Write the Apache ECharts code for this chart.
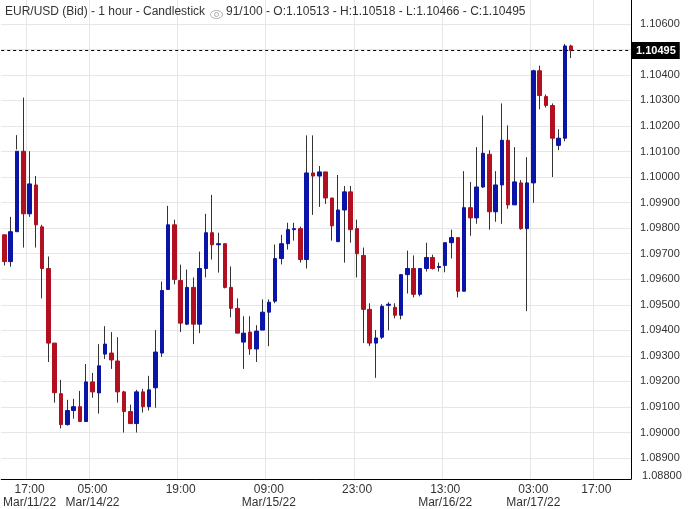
<!DOCTYPE html>
<html>
<head>
<meta charset="utf-8">
<script src="https://cdn.jsdelivr.net/npm/echarts@6/dist/echarts.min.js"></script>
<style>html,body{margin:0;padding:0;background:#fff}#chart{width:694px;height:509px}</style>
</head>
<body>
<div id="chart"></div>
<script>
// 每根K线: [open, close, low, high]
var candles = [
[1.09774,1.09669,1.09654,1.09774],[1.09669,1.09786,1.09649,1.09844],[1.09786,1.10101,1.10108,1.10164],
[1.10101,1.09856,1.09724,1.10311],[1.09856,1.09973,1.09844,1.10101],[1.09969,1.09813,1.09724,1.10004],
[1.09805,1.09642,1.09525,1.09813],[1.09642,1.09350,1.09276,1.09689],[1.09350,1.09156,1.09117,1.09350],
[1.09152,1.09031,1.09016,1.09206],[1.09031,1.09086,1.09027,1.09128],[1.09086,1.09101,1.09054,1.09132],
[1.09101,1.09043,1.09043,1.09163],[1.09043,1.09198,1.09043,1.09268],[1.09198,1.09159,1.09136,1.09233],
[1.09155,1.09261,1.09074,1.09346],[1.09307,1.09346,1.09288,1.09416],[1.09311,1.09284,1.09249,1.09393],
[1.09280,1.09159,1.09117,1.09373],[1.09159,1.09082,1.09000,1.09163],[1.09082,1.09035,1.09035,1.09109],
[1.09035,1.09159,1.09000,1.09167],[1.09159,1.09101,1.09078,1.09171],[1.09101,1.09167,1.09086,1.09222],
[1.09175,1.09315,1.09097,1.09401],[1.09311,1.09556,1.09296,1.09591],[1.09560,1.09813,1.09759,1.09887],
[1.09813,1.09599,1.09580,1.09833],[1.09595,1.09428,1.09393,1.09657],[1.09424,1.09568,1.09420,1.09638],
[1.09568,1.09424,1.09346,1.09607],[1.09424,1.09642,1.09389,1.09708],[1.09642,1.09782,1.09607,1.09856],
[1.09782,1.09735,1.09677,1.09930],[1.09735,1.09739,1.09626,1.09782],[1.09739,1.09568,1.09564,1.09739],
[1.09568,1.09486,1.09451,1.09650],[1.09486,1.09389,1.09389,1.09525],[1.09354,1.09389,1.09249,1.09455],
[1.09393,1.09327,1.09304,1.09455],[1.09327,1.09397,1.09276,1.09420],[1.09401,1.09471,1.09401,1.09521],
[1.09471,1.09510,1.09338,1.09521],[1.09514,1.09681,1.09506,1.09736],[1.09681,1.09739,1.09658,1.09774],
[1.09739,1.09794,1.09716,1.09821],[1.09794,1.09798,1.09751,1.09821],[1.09798,1.09677,1.09665,1.09806],
[1.09677,1.10016,1.09642,1.10163],[1.10016,1.10004,1.09852,1.10163],[1.10004,1.10020,1.09883,1.10043],
[1.10020,1.09918,1.09895,1.10020],[1.09918,1.09809,1.09751,1.09918],[1.09747,1.09871,1.09747,1.10008],
[1.09871,1.09942,1.09665,1.09965],[1.09942,1.09794,1.09743,1.09965],[1.09798,1.09700,1.09607,1.09833],
[1.09693,1.09482,1.09350,1.09724],[1.09482,1.09350,1.09338,1.09506],[1.09350,1.09370,1.09214,1.09401],
[1.09373,1.09494,1.09366,1.09502],[1.09498,1.09502,1.09400,1.09510],[1.09490,1.09459,1.09447,1.09506],
[1.09459,1.09618,1.09443,1.09618],[1.09618,1.09642,1.09544,1.09712],[1.09642,1.09541,1.09529,1.09693],
[1.09541,1.09642,1.09533,1.09642],[1.09642,1.09685,1.09630,1.09743],[1.09685,1.09642,1.09638,1.09696],
[1.09646,1.09650,1.09630,1.09665],[1.09654,1.09743,1.09627,1.09743],[1.09743,1.09763,1.09681,1.09794],
[1.09763,1.09553,1.09529,1.09763],[1.09553,1.09880,1.09553,1.10023],[1.09880,1.09840,1.09770,1.09981],
[1.09840,1.09961,1.09817,1.10117],[1.09961,1.10093,1.09957,1.10241],[1.10089,1.09864,1.09794,1.10105],
[1.09864,1.09969,1.09825,1.10023],[1.09969,1.10144,1.09817,1.10288],[1.10144,1.09891,1.09876,1.10202],
[1.09891,1.09981,1.09977,1.10117],[1.09977,1.09798,1.09794,1.09988],[1.09798,1.09977,1.09475,1.10078],
[1.09977,1.10416,1.09899,1.10420],[1.10416,1.10319,1.10265,1.10436],[1.10315,1.10280,1.10272,1.10323],
[1.10280,1.10152,1.10000,1.10288],[1.10124,1.10152,1.10105,1.10187],[1.10152,1.10513,1.10140,1.10521],
[1.10513,1.10495,1.10466,1.10518]
];
var slotCount = 100;
var tickSlots = [4, 14, 28, 42, 56, 70, 84, 94];
var tickLabels = ['17:00\nMar/11/22', '05:00\nMar/14/22', '19:00', '09:00\nMar/15/22', '23:00', '13:00\nMar/16/22', '03:00\nMar/17/22', '17:00'];
var priceTicks = [1.089,1.090,1.091,1.092,1.093,1.094,1.095,1.096,1.097,1.098,1.099,1.100,1.101,1.102,1.103,1.104,1.105,1.106];
var lastPrice = 1.10495;

var cats = [];
for (var i = 0; i < slotCount; i++) cats.push(String(i));
// 实体单独画, 影线用深色
var bodies = candles.map(function (c) {
	return [c[0], c[1], Math.min(c[0], c[1]), Math.max(c[0], c[1])];
});
var wicks = candles.map(function (c) { return [c[2], c[2], c[2], c[3]]; });
function isTick(idx) { return tickSlots.indexOf(idx) >= 0; }

var chart = echarts.init(document.getElementById('chart'));
var option = {
	animation: false,
	grid: { left: -3, width: 634, top: 0, height: 482 },
	xAxis: {
		type: 'category', data: cats, boundaryGap: true,
		axisLine: { lineStyle: { color: '#000' } },
		axisTick: { show: false },
		axisLabel: {
			interval: function (idx) { return isTick(idx); },
			formatter: function (v, idx) { return tickLabels[tickSlots.indexOf(idx)] || ''; },
			color: '#333', fontSize: 12, fontFamily: 'Liberation Sans', lineHeight: 13, margin: 4
		},
		splitLine: { show: true, interval: function (idx) { return isTick(idx); }, lineStyle: { color: '#e6e6e6' } }
	},
	yAxis: {
		type: 'value', position: 'right', scale: true,
		min: 1.08818, max: 1.10693,
		axisLine: { show: true, lineStyle: { color: '#000' } },
		axisTick: { show: false, customValues: priceTicks },
		axisLabel: { customValues: priceTicks, formatter: function (v) { return v.toFixed(5); },
			color: '#333', fontSize: 11, fontFamily: 'Liberation Sans', margin: 9 },
		splitLine: { show: true, lineStyle: { color: '#e6e6e6' } }
	},
	series: [{
		type: 'candlestick', data: wicks, barWidth: 1, z: 2,
		itemStyle: { color: '#333', color0: '#333', borderColor: '#333', borderColor0: '#333', borderWidth: 1 }
	}, {
		type: 'candlestick', data: bodies, barWidth: 4, z: 3,
		itemStyle: { color: '#0a14a6', color0: '#b01020', borderColor: '#0a14a6', borderColor0: '#b01020', borderWidth: 1 }
	}, {
		// 最新价虚线
		type: 'line', data: [], z: 4,
		markLine: {
			symbol: 'none', silent: true, precision: 5,
			lineStyle: { color: '#000', type: [3, 3], width: 1 },
			label: { position: 'end', distance: 1, formatter: function () { return lastPrice.toFixed(5); },
				backgroundColor: '#000', color: '#fff', fontWeight: 'bold', fontSize: 11,
				fontFamily: 'Liberation Sans', padding: [3, 4] },
			data: [{ yAxis: lastPrice }]
		}
	}],
	graphic: [
		{ type: 'text', left: 5, top: 6, z: 11, style: { text: 'EUR/USD (Bid) - 1 hour - Candlestick', fill: '#333', font: '12px Liberation Sans' } },
		{ type: 'ellipse', left: 208, top: 8, z: 11, shape: { cx: 6, cy: 4, rx: 6, ry: 4 }, style: { fill: 'none', stroke: '#aaa', lineWidth: 1 } },
		{ type: 'circle', left: 212, top: 10, z: 11, shape: { cx: 2, cy: 2, r: 2 }, style: { fill: 'none', stroke: '#aaa', lineWidth: 1 } },
		{ type: 'text', left: 226, top: 6, z: 11, style: { text: '91/100 - O:1.10513 - H:1.10518 - L:1.10466 - C:1.10495', fill: '#333', font: '12px Liberation Sans' } },
		{ type: 'text', left: 642, top: 470, z: 11, style: { text: '1.08800', fill: '#333', font: '11px Liberation Sans' } }
	]
};
chart.setOption(option);
</script>
</body>
</html>
